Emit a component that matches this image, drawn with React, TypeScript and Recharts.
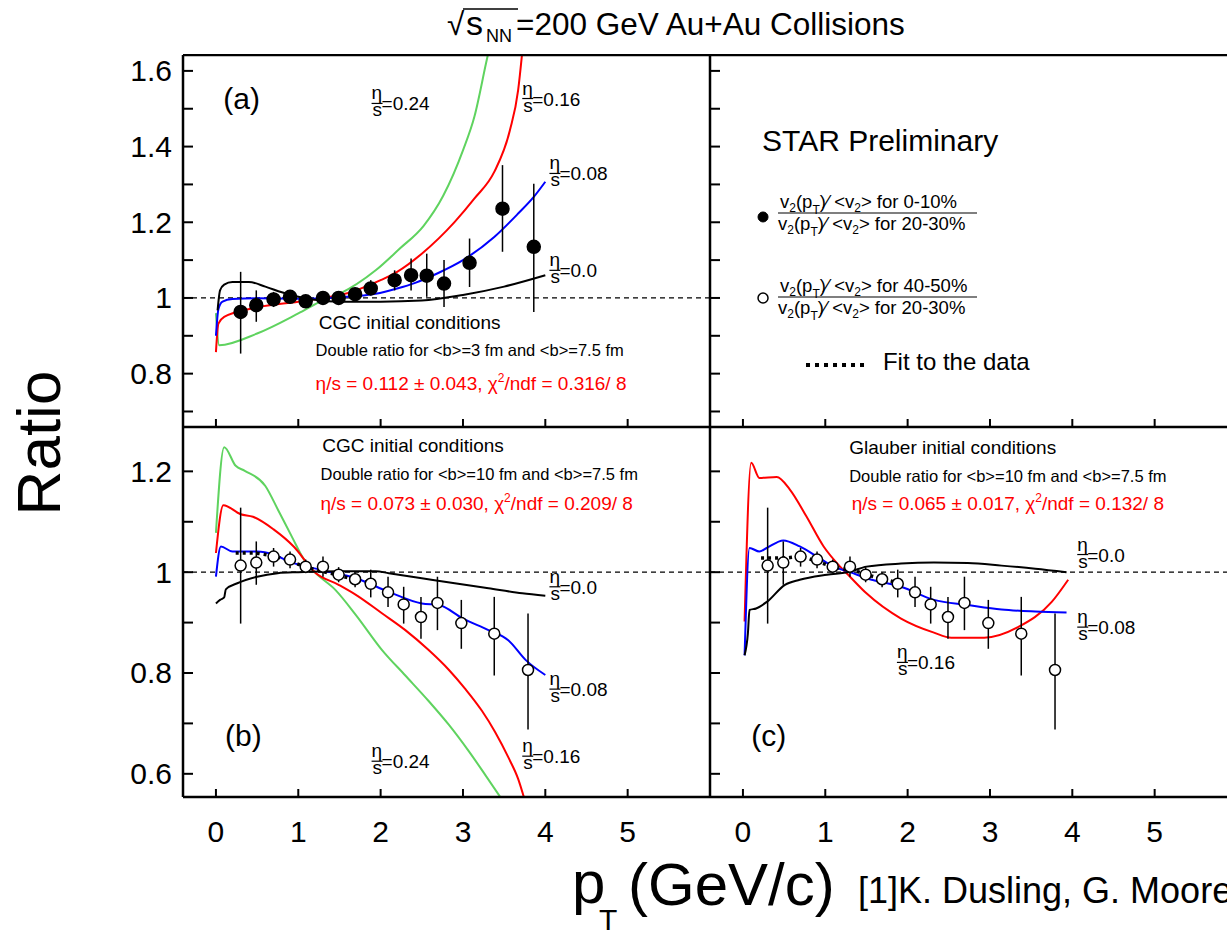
import React from "react";
import {
  ComposedChart,
  Line,
  Scatter,
  ErrorBar,
  XAxis,
  YAxis,
  ReferenceLine,
  ReferenceDot,
} from "recharts";

const FONT = "'Liberation Sans', Arial, Helvetica, sans-serif";
const GREEN = "#5fd35f";
const RED = "#ff0000";
const BLUE = "#0000ff";
const BLACK = "#000000";

// shared p_T axis
const X_DOMAIN: [number, number] = [-0.4, 6.0];
const X_TICKS = [0, 1, 2, 3, 4, 5];

// ratio axes: top row and bottom row
const TOP_DOMAIN: [number, number] = [0.659, 1.642];
const TOP_TICKS = [0.7, 0.8, 0.9, 1.0, 1.1, 1.2, 1.3, 1.4, 1.5, 1.6];
const BOTTOM_DOMAIN: [number, number] = [0.554, 1.288];
const BOTTOM_TICKS = [0.6, 0.7, 0.8, 0.9, 1.0, 1.1, 1.2];

// STAR data: 0-10% over 20-30% (filled)
const ptCentral = [0.3, 0.49, 0.7, 0.9, 1.09, 1.3, 1.49, 1.69, 1.88, 2.17, 2.37, 2.56, 2.77, 3.08, 3.48, 3.86];
const ratioCentral = [0.963, 0.981, 0.996, 1.003, 0.991, 1.0, 1.0, 1.01, 1.025, 1.047, 1.06, 1.059, 1.038, 1.093, 1.236, 1.135];
const ratioCentralLo = [0.853, 0.937, 0.976, 0.985, 0.975, 0.985, 0.985, 0.989, 1.007, 1.02, 1.02, 1.003, 0.976, 1.029, 1.122, 0.963];
const ratioCentralHi = [1.069, 1.02, 1.016, 1.016, 1.005, 1.012, 1.012, 1.025, 1.047, 1.073, 1.104, 1.117, 1.1, 1.157, 1.351, 1.302];

// STAR data: 40-50% over 20-30% (open)
const ptPeripheral = [0.3, 0.49, 0.7, 0.9, 1.09, 1.3, 1.49, 1.69, 1.88, 2.09, 2.28, 2.49, 2.69, 2.98, 3.38, 3.79];
const ratioPeripheral = [1.013, 1.019, 1.031, 1.025, 1.011, 1.011, 0.995, 0.986, 0.977, 0.96, 0.936, 0.911, 0.939, 0.899, 0.878, 0.806];
const ratioPeripheralLo = [0.898, 0.975, 1.011, 1.008, 0.998, 0.991, 0.98, 0.97, 0.95, 0.931, 0.898, 0.868, 0.885, 0.848, 0.795, 0.688];
const ratioPeripheralHi = [1.128, 1.061, 1.048, 1.041, 1.025, 1.031, 1.01, 1.0, 1.005, 0.991, 0.971, 0.951, 0.991, 0.945, 0.951, 0.918];

// (a) CGC, <b>=3 fm / <b>=7.5 fm
const aEta0X = [0.02, 0.05, 0.1, 0.2, 0.4, 0.6, 0.8, 1.0, 1.2, 1.5, 2.0, 2.5, 3.0, 3.5, 4.0];
const aEta0Y = [0.967, 1.02, 1.035, 1.042, 1.042, 1.03, 1.015, 1.003, 0.995, 0.99, 0.99, 0.993, 1.008, 1.03, 1.06];
const aEta08X = [0, 0.03, 0.08, 0.2, 0.5, 1.0, 1.5, 1.94, 2.2, 2.42, 2.7, 3.0, 3.38, 3.67, 3.86, 4.0];
const aEta08Y = [0.9, 0.97, 0.99, 0.997, 0.999, 0.998, 1.002, 1.011, 1.025, 1.04, 1.066, 1.1, 1.161, 1.223, 1.267, 1.307];
const aEta16X = [0, 0.03, 0.1, 0.5, 1.0, 1.3, 1.5, 2.0, 2.2, 2.5, 2.9, 3.14, 3.38, 3.57, 3.67, 3.72];
const aEta16Y = [0.857, 0.932, 0.95, 0.975, 0.99, 1.0, 1.007, 1.047, 1.069, 1.117, 1.201, 1.263, 1.333, 1.443, 1.549, 1.65];
const aEta24X = [0, 0.04, 0.5, 1.0, 1.3, 1.5, 1.94, 2.23, 2.52, 2.76, 3.0, 3.14, 3.28, 3.32];
const aEta24Y = [0.96, 0.875, 0.906, 0.959, 0.994, 1.011, 1.073, 1.13, 1.19, 1.27, 1.39, 1.48, 1.62, 1.66];

// (b) CGC, <b>=10 fm / <b>=7.5 fm
const bEta0X = [0, 0.05, 0.1, 0.12, 0.26, 0.5, 0.75, 1.0, 1.5, 1.94, 2.1, 2.5, 2.9, 3.31, 3.72, 4.0];
const bEta0Y = [0.938, 0.945, 0.95, 0.966, 0.978, 0.991, 0.998, 1.0, 1.002, 1.002, 0.998, 0.988, 0.978, 0.968, 0.958, 0.953];
const bEta08X = [0, 0.06, 0.2, 0.5, 0.7, 0.89, 1.29, 1.7, 2.1, 2.5, 2.71, 2.99, 3.31, 3.55, 3.76, 4.0];
const bEta08Y = [0.991, 1.051, 1.041, 1.041, 1.035, 1.021, 1.004, 0.988, 0.961, 0.938, 0.935, 0.909, 0.885, 0.865, 0.826, 0.796];
const bEta16X = [0, 0.09, 0.3, 0.45, 0.7, 0.95, 1.2, 1.49, 1.7, 2.02, 2.3, 2.58, 2.83, 3.03, 3.23, 3.39, 3.55, 3.67, 3.75];
const bEta16Y = [1.038, 1.133, 1.115, 1.11, 1.085, 1.05, 1.0, 0.975, 0.955, 0.918, 0.885, 0.846, 0.806, 0.768, 0.725, 0.683, 0.633, 0.59, 0.548];
const bEta24X = [0, 0.1, 0.24, 0.35, 0.6, 0.75, 0.92, 1.07, 1.2, 1.45, 1.7, 2.02, 2.3, 2.58, 2.83, 3.07, 3.27, 3.49];
const bEta24Y = [1.078, 1.248, 1.211, 1.201, 1.171, 1.125, 1.071, 1.025, 1.0, 0.965, 0.915, 0.845, 0.795, 0.745, 0.697, 0.645, 0.598, 0.545];
const bFitX = [0.24, 0.46, 0.6, 0.79, 1.08, 1.46, 1.7, 1.89];
const bFitY = [1.038, 1.038, 1.035, 1.028, 1.011, 0.995, 0.985, 0.978];

// (c) Glauber, <b>=10 fm / <b>=7.5 fm
const cEta0X = [0.02, 0.06, 0.08, 0.16, 0.29, 0.51, 0.69, 1.02, 1.3, 1.5, 1.92, 2.32, 2.73, 3.14, 3.55, 3.93];
const cEta0Y = [0.835, 0.878, 0.925, 0.928, 0.941, 0.975, 0.985, 0.995, 1.001, 1.011, 1.017, 1.019, 1.018, 1.013, 1.007, 1.0];
const cEta08X = [0.02, 0.08, 0.2, 0.29, 0.49, 0.69, 0.9, 1.1, 1.3, 1.5, 1.92, 2.32, 2.73, 3.14, 3.55, 3.93];
const cEta08Y = [0.835, 1.048, 1.041, 1.048, 1.063, 1.051, 1.031, 1.011, 1.0, 0.988, 0.971, 0.945, 0.935, 0.926, 0.922, 0.92];
const cEta16X = [0.02, 0.1, 0.2, 0.41, 0.57, 0.77, 0.98, 1.18, 1.3, 1.5, 1.92, 2.32, 2.53, 2.93, 3.34, 3.75, 3.95];
const cEta16Y = [0.902, 1.217, 1.187, 1.189, 1.164, 1.111, 1.051, 1.011, 0.991, 0.958, 0.908, 0.88, 0.87, 0.87, 0.891, 0.941, 0.985];
const cFitX = [0.22, 0.5, 0.69, 0.9, 1.1, 1.39, 1.59, 1.92];
const cFitY = [1.028, 1.028, 1.031, 1.021, 1.011, 1.001, 0.991, 0.978];

const PLOT_W = 527;
const AXIS = { stroke: BLACK, strokeWidth: 2.5 };

type Curve = { xs: number[]; ys: number[]; color: string; dotted?: boolean };
type Measured = { xs: number[]; ys: number[]; lo: number[]; hi: number[]; open: boolean };
type Note = { x: number; y: number; draw: (cx: number, cy: number) => React.ReactNode };

const toPts = (xs: number[], ys: number[]) => xs.map((x, i) => ({ x, y: ys[i] }));

function XTick(props: any) {
  const { x, y, payload, showLabel } = props;
  return (
    <g>
      <line x1={x} x2={x} y1={y} y2={y - 8} stroke={BLACK} strokeWidth={2} />
      {showLabel && (
        <text x={x} y={y + 45} textAnchor="middle" fontSize={30} fontFamily={FONT} fill={BLACK}>
          {payload.value}
        </text>
      )}
    </g>
  );
}

function YTick(props: any) {
  const { x, y, payload, showLabel } = props;
  const v = payload.value as number;
  const major = Math.round(v * 10) % 2 === 0;
  return (
    <g>
      <line x1={x} x2={x + 10} y1={y} y2={y} stroke={BLACK} strokeWidth={2} />
      {showLabel && major && (
        <text x={x - 11} y={y + 10.5} textAnchor="end" fontSize={30} fontFamily={FONT} fill={BLACK}>
          {String(Math.round(v * 10) / 10)}
        </text>
      )}
    </g>
  );
}

// η/s fraction label, anchored at the left end of the fraction bar
function etaS(val: string) {
  return (cx: number, cy: number) => (
    <g fontFamily={FONT} fill={BLACK}>
      <text x={cx} y={cy - 4} fontSize={19}>η</text>
      <line x1={cx} x2={cx + 11} y1={cy} y2={cy} stroke={BLACK} strokeWidth={1.2} />
      <text x={cx + 1} y={cy + 13} fontSize={19}>s</text>
      <text x={cx + 10} y={cy + 7} fontSize={19}>={val}</text>
    </g>
  );
}

function plain(text: string, size: number, color = BLACK) {
  return (cx: number, cy: number) => (
    <text x={cx} y={cy} fontSize={size} fill={color} fontFamily={FONT}>
      {text}
    </text>
  );
}

function fitResult(eta: string, chi: string) {
  return (cx: number, cy: number) => (
    <text x={cx} y={cy} fontSize={19} fill={RED} fontFamily={FONT}>
      η/s = {eta}, χ
      <tspan dy={-8} fontSize={12}>2</tspan>
      <tspan dy={8}>/ndf = {chi}/ 8</tspan>
    </text>
  );
}

function v2Expr(tail: string) {
  return (
    <>
      v<tspan dy={4} fontSize={12}>2</tspan>
      <tspan dy={-4}>(p</tspan>
      <tspan dy={6} fontSize={12}>T</tspan>
      <tspan dy={-6}>{")⁄ <v"}</tspan>
      <tspan dy={4} fontSize={12}>2</tspan>
      <tspan dy={-4}>{"> for " + tail}</tspan>
    </>
  );
}

function fraction(top: string, bottom: string) {
  return (cx: number, cy: number) => (
    <g fontFamily={FONT} fontSize={18.5} fill={BLACK}>
      <text x={cx + 2} y={cy - 5}>{v2Expr(top)}</text>
      <line x1={cx} x2={cx + 199} y1={cy} y2={cy} stroke={BLACK} strokeWidth={1.2} />
      <text x={cx} y={cy + 17}>{v2Expr(bottom)}</text>
    </g>
  );
}

type PanelProps = {
  plotLeft: number;
  plotTop: number;
  plotH: number;
  leftPad: number;
  bottomPad: number;
  yDomain: [number, number];
  yTicks: number[];
  yLabels: boolean;
  xLabels: boolean;
  curves?: Curve[];
  data?: Measured;
  notes?: Note[];
  unity?: boolean;
  children?: React.ReactNode;
};

// axes are 1px thick boxes so that they still draw; the plot area sits
// at (leftPad, 1) inside the chart surface
function Panel(p: PanelProps) {
  const points = p.data
    ? p.data.xs.map((x, i) => ({
        x,
        y: p.data!.ys[i],
        err: [p.data!.ys[i] - p.data!.lo[i], p.data!.hi[i] - p.data!.ys[i]],
      }))
    : [];
  const open = p.data?.open;
  return (
    <div style={{ position: "absolute", left: p.plotLeft - p.leftPad, top: p.plotTop - 1 }}>
      <ComposedChart
        width={p.leftPad + PLOT_W + 1}
        height={1 + p.plotH + p.bottomPad}
        margin={{ top: 0, right: 0, bottom: p.bottomPad - 1, left: p.leftPad - 1 }}
      >
        <XAxis
          type="number"
          dataKey="x"
          domain={X_DOMAIN}
          ticks={X_TICKS}
          interval={0}
          allowDataOverflow
          height={1}
          tickSize={0}
          tickMargin={0}
          tickLine={false}
          axisLine={AXIS}
          tick={(tp: any) => <XTick {...tp} showLabel={p.xLabels} />}
        />
        <XAxis
          xAxisId="top"
          orientation="top"
          type="number"
          domain={X_DOMAIN}
          height={1}
          tick={false}
          tickLine={false}
          axisLine={AXIS}
        />
        <YAxis
          type="number"
          domain={p.yDomain}
          ticks={p.yTicks}
          interval={0}
          allowDataOverflow
          width={1}
          tickSize={0}
          tickMargin={0}
          tickLine={false}
          axisLine={AXIS}
          tick={(tp: any) => <YTick {...tp} showLabel={p.yLabels} />}
        />
        <YAxis
          yAxisId="right"
          orientation="right"
          type="number"
          domain={p.yDomain}
          width={1}
          tick={false}
          tickLine={false}
          axisLine={AXIS}
        />
        {p.unity && (
          <ReferenceLine y={1} stroke={BLACK} strokeWidth={1.2} strokeDasharray="5 4" />
        )}
        {(p.curves || []).map((c, i) => (
          <Line
            key={i}
            data={toPts(c.xs, c.ys)}
            dataKey="y"
            type="monotone"
            stroke={c.color}
            strokeWidth={c.dotted ? 3.5 : 2}
            strokeDasharray={c.dotted ? "3 4" : undefined}
            dot={false}
            activeDot={false}
            isAnimationActive={false}
          />
        ))}
        {p.data && (
          <Scatter
            data={points}
            dataKey="y"
            isAnimationActive={false}
            shape={(sp: any) => (
              <circle
                cx={sp.cx}
                cy={sp.cy}
                r={open ? 5.5 : 6.5}
                fill={open ? "#fff" : BLACK}
                stroke={BLACK}
                strokeWidth={1.5}
              />
            )}
          >
            <ErrorBar dataKey="err" direction="y" width={0} stroke={BLACK} strokeWidth={1.5} />
          </Scatter>
        )}
        {p.children}
        {(p.notes || []).map((n, i) => (
          <ReferenceDot
            key={"n" + i}
            x={n.x}
            y={n.y}
            r={0}
            shape={(dp: any) => <g>{n.draw(dp.cx, dp.cy)}</g>}
          />
        ))}
      </ComposedChart>
    </div>
  );
}

export default function App() {
  const central: Measured = {
    xs: ptCentral, ys: ratioCentral, lo: ratioCentralLo, hi: ratioCentralHi, open: false,
  };
  const peripheral: Measured = {
    xs: ptPeripheral, ys: ratioPeripheral, lo: ratioPeripheralLo, hi: ratioPeripheralHi, open: true,
  };

  return (
    <div
      style={{
        position: "fixed",
        left: 0,
        top: 0,
        width: 1227,
        height: 935,
        overflow: "hidden",
        background: "#fff",
        fontFamily: FONT,
      }}
    >
      {/* (a) */}
      <Panel
        plotLeft={183}
        plotTop={55}
        plotH={372}
        leftPad={80}
        bottomPad={1}
        yDomain={TOP_DOMAIN}
        yTicks={TOP_TICKS}
        yLabels
        xLabels={false}
        unity
        curves={[
          { xs: aEta24X, ys: aEta24Y, color: GREEN },
          { xs: aEta16X, ys: aEta16Y, color: RED },
          { xs: aEta08X, ys: aEta08Y, color: BLUE },
          { xs: aEta0X, ys: aEta0Y, color: BLACK },
        ]}
        data={central}
        notes={[
          { x: 0.09, y: 1.5, draw: plain("(a)", 30) },
          { x: 1.89, y: 1.514, draw: etaS("0.24") },
          { x: 3.72, y: 1.527, draw: etaS("0.16") },
          { x: 4.05, y: 1.329, draw: etaS("0.08") },
          { x: 4.05, y: 1.073, draw: etaS("0.0") },
          { x: 1.25, y: 0.919, draw: plain("CGC initial conditions", 19) },
          { x: 1.21, y: 0.846, draw: plain("Double ratio for <b>=3 fm and <b>=7.5 fm", 16.5) },
          { x: 1.21, y: 0.758, draw: fitResult("0.112 ± 0.043", "0.316") },
        ]}
      />

      {/* legend panel */}
      <Panel
        plotLeft={710}
        plotTop={55}
        plotH={372}
        leftPad={1}
        bottomPad={1}
        yDomain={TOP_DOMAIN}
        yTicks={TOP_TICKS}
        yLabels={false}
        xLabels={false}
        notes={[
          { x: 0.232, y: 1.388, draw: plain("STAR Preliminary", 30) },
          { x: 0.426, y: 1.2245, draw: fraction("0-10%", "20-30%") },
          { x: 0.426, y: 1.0025, draw: fraction("40-50%", "20-30%") },
          { x: 1.7, y: 0.81, draw: plain("Fit to the data", 24) },
        ]}
      >
        <ReferenceDot x={0.244} y={1.214} r={5} fill={BLACK} stroke={BLACK} />
        <ReferenceDot x={0.244} y={1.0} r={5} fill="#fff" stroke={BLACK} strokeWidth={1.5} />
        <ReferenceLine
          segment={[
            { x: 0.766, y: 0.823 },
            { x: 1.483, y: 0.823 },
          ]}
          stroke={BLACK}
          strokeWidth={4}
          strokeDasharray="4 5"
        />
      </Panel>

      {/* (b) */}
      <Panel
        plotLeft={183}
        plotTop={427}
        plotH={370}
        leftPad={80}
        bottomPad={60}
        yDomain={BOTTOM_DOMAIN}
        yTicks={BOTTOM_TICKS}
        yLabels
        xLabels
        unity
        curves={[
          { xs: bEta24X, ys: bEta24Y, color: GREEN },
          { xs: bEta16X, ys: bEta16Y, color: RED },
          { xs: bEta08X, ys: bEta08Y, color: BLUE },
          { xs: bEta0X, ys: bEta0Y, color: BLACK },
          { xs: bFitX, ys: bFitY, color: BLACK, dotted: true },
        ]}
        data={peripheral}
        notes={[
          { x: 0.11, y: 0.655, draw: plain("(b)", 30) },
          { x: 1.89, y: 0.625, draw: etaS("0.24") },
          { x: 3.72, y: 0.635, draw: etaS("0.16") },
          { x: 4.05, y: 0.768, draw: etaS("0.08") },
          { x: 4.05, y: 0.971, draw: etaS("0.0") },
          { x: 1.29, y: 1.238, draw: plain("CGC initial conditions", 19) },
          { x: 1.27, y: 1.183, draw: plain("Double ratio for <b>=10 fm and <b>=7.5 fm", 16.5) },
          { x: 1.27, y: 1.123, draw: fitResult("0.073 ± 0.030", "0.209") },
        ]}
      />

      {/* (c) */}
      <Panel
        plotLeft={710}
        plotTop={427}
        plotH={370}
        leftPad={1}
        bottomPad={60}
        yDomain={BOTTOM_DOMAIN}
        yTicks={BOTTOM_TICKS}
        yLabels={false}
        xLabels
        unity
        curves={[
          { xs: cEta16X, ys: cEta16Y, color: RED },
          { xs: cEta08X, ys: cEta08Y, color: BLUE },
          { xs: cEta0X, ys: cEta0Y, color: BLACK },
          { xs: cFitX, ys: cFitY, color: BLACK, dotted: true },
        ]}
        data={peripheral}
        notes={[
          { x: 0.1, y: 0.655, draw: plain("(c)", 30) },
          { x: 1.87, y: 0.821, draw: etaS("0.16") },
          { x: 4.06, y: 0.891, draw: etaS("0.08") },
          { x: 4.06, y: 1.035, draw: etaS("0.0") },
          { x: 1.29, y: 1.235, draw: plain("Glauber initial conditions", 19) },
          { x: 1.29, y: 1.178, draw: plain("Double ratio for <b>=10 fm and <b>=7.5 fm", 16.5) },
          { x: 1.32, y: 1.123, draw: fitResult("0.065 ± 0.017", "0.132") },
        ]}
      />

      {/* titles */}
      <svg
        width={1227}
        height={935}
        style={{ position: "absolute", left: 0, top: 0, pointerEvents: "none" }}
        fontFamily={FONT}
      >
        <text x={447} y={35} fontSize={31.5} fill={BLACK}>
          √<tspan x={466} fontSize={34}>s</tspan>
          <tspan x={486} dy={7} fontSize={18}>NN</tspan>
          <tspan x={516} dy={-7}>=200 GeV Au+Au Collisions</tspan>
        </text>
        <line x1={463} x2={518} y1={9} y2={9} stroke={BLACK} strokeWidth={1.5} />
        <text
          x={60}
          y={443}
          fontSize={62}
          textAnchor="middle"
          transform="rotate(-90, 60, 443)"
          fill={BLACK}
        >
          Ratio
        </text>
        <text x={572} y={903} fontSize={60} fill={BLACK}>p</text>
        <text x={599} y={930} fontSize={30} fill={BLACK}>T</text>
        <text x={628} y={905} fontSize={60} fill={BLACK}>(GeV/c)</text>
        <text x={858} y={903} fontSize={36} fill={BLACK}>
          [1]K. Dusling, G. Moore, D. Teaney
        </text>
      </svg>
    </div>
  );
}
